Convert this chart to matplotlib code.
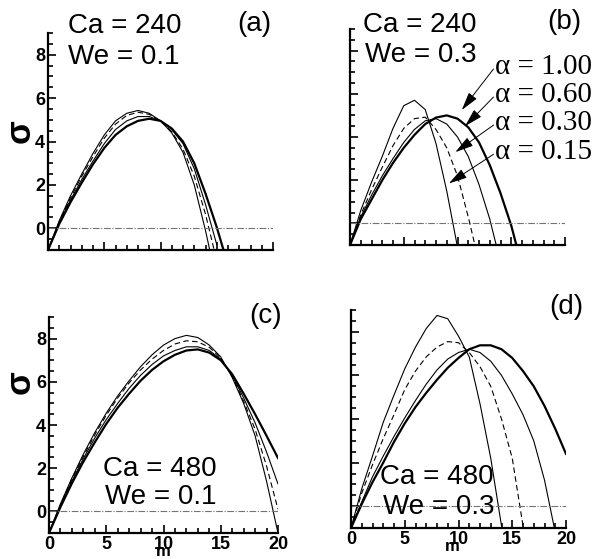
import numpy as np
import matplotlib.pyplot as plt
from matplotlib.ticker import MultipleLocator

plt.rcParams['font.family'] = 'Liberation Sans'

# wavenumber m (values sampled at integer m)
m = np.arange(0, 21)

# (a) Ca = 240, We = 0.1
a_100 = [-1, 0.2, 1.2, 2.1, 2.95, 3.7, 4.3, 4.7, 4.95, 5.05, 4.95, 4.6, 4.0, 3.0, 1.6, 0.05, -1.7]
a_060 = [-1, 0.25, 1.3, 2.25, 3.1, 3.9, 4.55, 4.95, 5.15, 5.15, 4.95, 4.55, 3.9, 2.75, 1.1, -0.75]
a_030 = [-1, 0.3, 1.4, 2.4, 3.3, 4.15, 4.8, 5.2, 5.35, 5.25, 4.95, 4.45, 3.65, 2.4, 0.65, -1.5]
a_015 = [-1, 0.35, 1.5, 2.5, 3.45, 4.3, 4.95, 5.3, 5.43, 5.3, 4.95, 4.4, 3.5, 2.0, -0.1, -2.5]

# (b) Ca = 240, We = 0.3
b_100 = [-1, 0.2, 1.1, 2.0, 2.8, 3.5, 4.1, 4.6, 4.9, 5.0, 4.85, 4.45, 3.75, 2.7, 1.4, -0.1, -2.0]
b_060 = [-1, 0.3, 1.3, 2.2, 3.0, 3.75, 4.35, 4.75, 4.85, 4.6, 4.0, 3.1, 1.8, 0.2, -1.8]
b_030 = [-1, 0.4, 1.55, 2.6, 3.6, 4.4, 4.85, 4.92, 4.35, 3.5, 2.2, 0.3, -1.8]
b_015 = [-1, 0.6, 1.9, 3.1, 4.4, 5.45, 5.7, 5.27, 3.7, 1.5, -1.1]

# (c) Ca = 480, We = 0.1
c_100 = [-1, 0.2, 1.3, 2.3, 3.2, 4.05, 4.8, 5.45, 6.05, 6.55, 6.95, 7.25, 7.45, 7.5, 7.35, 7.0,
         6.35, 5.45, 4.5, 3.5, 2.47]
c_060 = [-1, 0.25, 1.4, 2.45, 3.4, 4.25, 5.0, 5.7, 6.3, 6.8, 7.2, 7.45, 7.62, 7.62, 7.45, 7.05,
         6.3, 5.25, 4.1, 2.75, 1.27]
c_030 = [-1, 0.3, 1.5, 2.55, 3.55, 4.45, 5.25, 5.95, 6.55, 7.05, 7.45, 7.75, 7.9, 7.85, 7.6, 7.1,
         6.25, 5.1, 3.8, 2.1, 0.1]
c_015 = [-1, 0.35, 1.55, 2.65, 3.65, 4.55, 5.35, 6.05, 6.7, 7.25, 7.7, 8.0, 8.15, 8.05, 7.7, 7.15,
         6.2, 5.0, 3.5, 1.4, -1.0]

# (d) Ca = 480, We = 0.3
d_100 = [-1, 0.1, 1.1, 2.0, 2.95, 3.8, 4.55, 5.2, 5.8, 6.35, 6.8, 7.2, 7.38, 7.38, 7.2, 6.8,
         6.2, 5.5, 4.6, 3.55, 2.4]
d_060 = [-1, 0.2, 1.35, 2.3, 3.2, 4.05, 4.85, 5.6, 6.25, 6.75, 7.05, 7.2, 7.05, 6.65, 6.0, 5.15,
         4.2, 3.0, 1.2, -1.2]
d_030 = [-1, 0.6, 1.9, 3.1, 4.2, 5.35, 6.2, 6.85, 7.3, 7.55, 7.5, 7.05, 6.4, 5.5, 4.0, 2.2, -0.9]
d_015 = [-1, 0.8, 2.3, 3.85, 5.1, 6.3, 7.3, 8.15, 8.75, 8.6, 7.8, 6.85, 4.7, 2.2, -0.9]

alpha_labels = ['α = 1.00', 'α = 0.60', 'α = 0.30', 'α = 0.15']

W, H = 600, 559


def box(left, bottom, width, height):
    return [left / W, 1 - bottom / H, width / W, height / H]


def draw(ax, s100, s060, s030, s015, xlabel_x=None, ylabel_y=None):
    ax.plot(m[:len(s015)], s015, color='k', lw=0.8)
    ax.plot(m[:len(s030)], s030, color='k', lw=0.8, ls=(0, (5, 3)))
    ax.plot(m[:len(s060)], s060, color='k', lw=0.8)
    ax.plot(m[:len(s100)], s100, color='k', lw=1.6)
    ax.axhline(0, color='0.45', lw=0.8, ls=(0, (6, 1.5, 1, 1.5)))
    ax.set_xlim(0, 20)
    ax.set_ylim(-1, 9)
    for side in ['top', 'right']:
        ax.spines[side].set_visible(False)
    for side in ['left', 'bottom']:
        ax.spines[side].set_linewidth(1.6)
    ax.xaxis.set_major_locator(MultipleLocator(5))
    ax.xaxis.set_minor_locator(MultipleLocator(1))
    ax.yaxis.set_minor_locator(MultipleLocator(0.5))
    ax.set_yticks(np.arange(0, 9, 2))
    ax.tick_params(which='both', direction='in', width=1.2, labelsize=13, pad=2)
    ax.tick_params(which='major', length=6)
    ax.tick_params(which='minor', length=3.5)
    if xlabel_x is None:
        ax.set_xticklabels([])
    else:
        ax.set_xlabel('m', fontsize=12, fontweight='bold')
        ax.xaxis.set_label_coords(xlabel_x, -0.052)
    if ylabel_y is None:
        ax.set_yticklabels([])
    else:
        ax.set_ylabel('σ', fontsize=25, fontweight='bold')
        ax.yaxis.set_label_coords(-0.052, ylabel_y)
    for lab in ax.get_xticklabels() + ax.get_yticklabels():
        lab.set_fontweight('bold')


fig = plt.figure(figsize=(6.0, 5.59), dpi=100)

ax_a = fig.add_axes(box(48, 250, 225, 217))
ax_b = fig.add_axes(box(350, 245, 215, 216))
ax_c = fig.add_axes(box(49, 533, 229, 216))
ax_d = fig.add_axes(box(351, 528, 215, 218))

draw(ax_a, a_100, a_060, a_030, a_015, ylabel_y=0.55)
draw(ax_b, b_100, b_060, b_030, b_015)
draw(ax_c, c_100, c_060, c_030, c_015, xlabel_x=0.5, ylabel_y=0.7)
draw(ax_d, d_100, d_060, d_030, d_015, xlabel_x=0.47)


def ftext(x, y, s, **kw):
    fig.text(x / W, 1 - y / H, s, va='center', ha='left', fontsize=20, **kw)


ftext(68, 26, 'Ca = 240')
ftext(68, 57, 'We = 0.1')
ftext(237, 24, '(a)')

ftext(363, 25, 'Ca = 240')
ftext(365, 55, 'We = 0.3')
ftext(547, 22, '(b)')

ftext(249, 316, '(c)')
ftext(103, 469, 'Ca = 480')
ftext(105, 497, 'We = 0.1')

ftext(549, 307, '(d)')
ftext(380, 477, 'Ca = 480')
ftext(383, 507, 'We = 0.3')

# alpha legend with arrows in panel (b)
label_y = [7.25, 5.95, 4.65, 3.3]
arrow_tips = [(10.4, 5.25), (10.7, 4.5), (9.8, 3.3), (9.2, 1.85)]
for lab, ly, tip in zip(alpha_labels, label_y, arrow_tips):
    ax_b.text(13.5, ly, lab, fontsize=21, family='Liberation Serif',
              va='center', ha='left', clip_on=False)
    ax_b.annotate('', xy=tip, xytext=(13.35, ly - 0.1),
                  arrowprops=dict(arrowstyle='-|>,head_length=0.8,head_width=0.22',
                                  color='k', lw=0.7, mutation_scale=14,
                                  shrinkA=0, shrinkB=0))

fig.savefig('out.png', dpi=100)
